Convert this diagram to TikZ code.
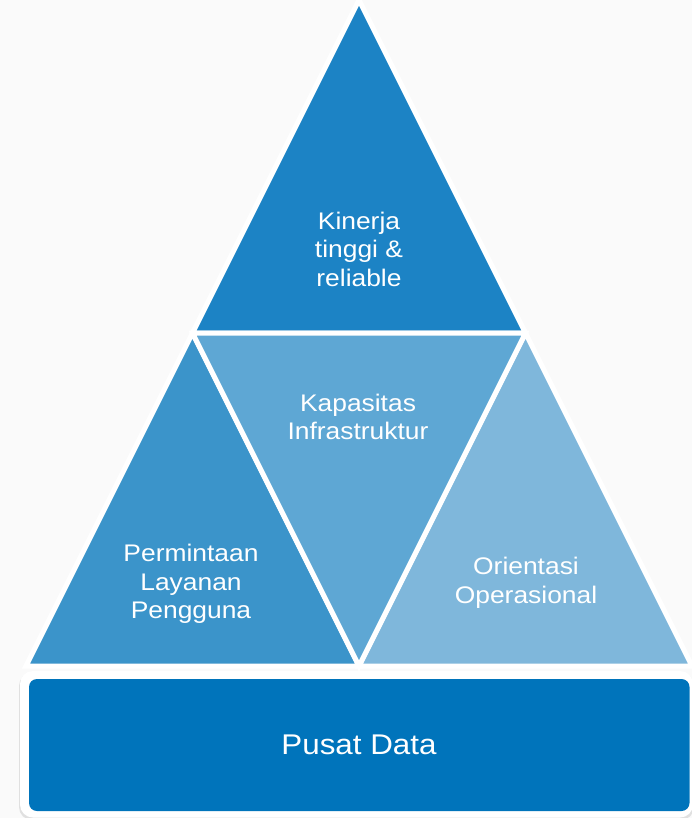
\documentclass[tikz,border=0pt]{standalone}
\usepackage{fontspec}
\setmainfont{Liberation Sans}[FakeStretch=1.1]
\definecolor{bgc}{HTML}{FAFAFA}
\definecolor{ctop}{HTML}{1C83C5}
\definecolor{cmid}{HTML}{5EA7D4}
\definecolor{cleft}{HTML}{3B94CA}
\definecolor{cright}{HTML}{7FB7DB}
\definecolor{cbase}{HTML}{0074BB}
\begin{document}
\begin{tikzpicture}[x=1pt,y=-1pt,
  tri/.style={draw=white,line width=5pt,line join=miter},
  lbl/.style={text=white,align=center,font=\fontsize{24}{28.5}\selectfont,inner sep=0pt},
  biglbl/.style={text=white,align=center,font=\fontsize{28.5}{33}\selectfont,inner sep=0pt}]
\fill[bgc] (0,0) rectangle (692,818);
\useasboundingbox (0,0) rectangle (692,818);
% vertices
\coordinate (P) at (359,0);
\coordinate (L) at (26,666);
\coordinate (R) at (692,666);
\coordinate (ML) at (192.5,333);
\coordinate (MR) at (525.5,333);
\coordinate (MB) at (359,666);
% triangles
\filldraw[tri,fill=ctop] (P) -- (ML) -- (MR) -- cycle;
\filldraw[tri,fill=cleft] (ML) -- (L) -- (MB) -- cycle;
\filldraw[tri,fill=cright] (MR) -- (MB) -- (R) -- cycle;
\filldraw[tri,fill=cmid] (ML) -- (MR) -- (MB) -- cycle;
% base box
\fill[black!12,rounded corners=13pt] (19,673) rectangle (694,820);
\fill[white,rounded corners=13pt] (20,671) rectangle (693,817.5);
\fill[cbase,rounded corners=8pt] (29,679) rectangle (689.5,811);
% labels
\node[lbl] (kin) at (359,249) {Kinerja\\tinggi \&\\reliable};
\node[lbl] (kap) at (358,417) {Kapasitas\\Infrastruktur};
\node[lbl] (per) at (191,584) {Permintaan\\Layanan\\Pengguna};
\node[lbl] (ori) at (526,583) {Orientasi\\Operasional};
\node[biglbl] (pus) at (359,745) {Pusat Data};
\end{tikzpicture}
\end{document}
